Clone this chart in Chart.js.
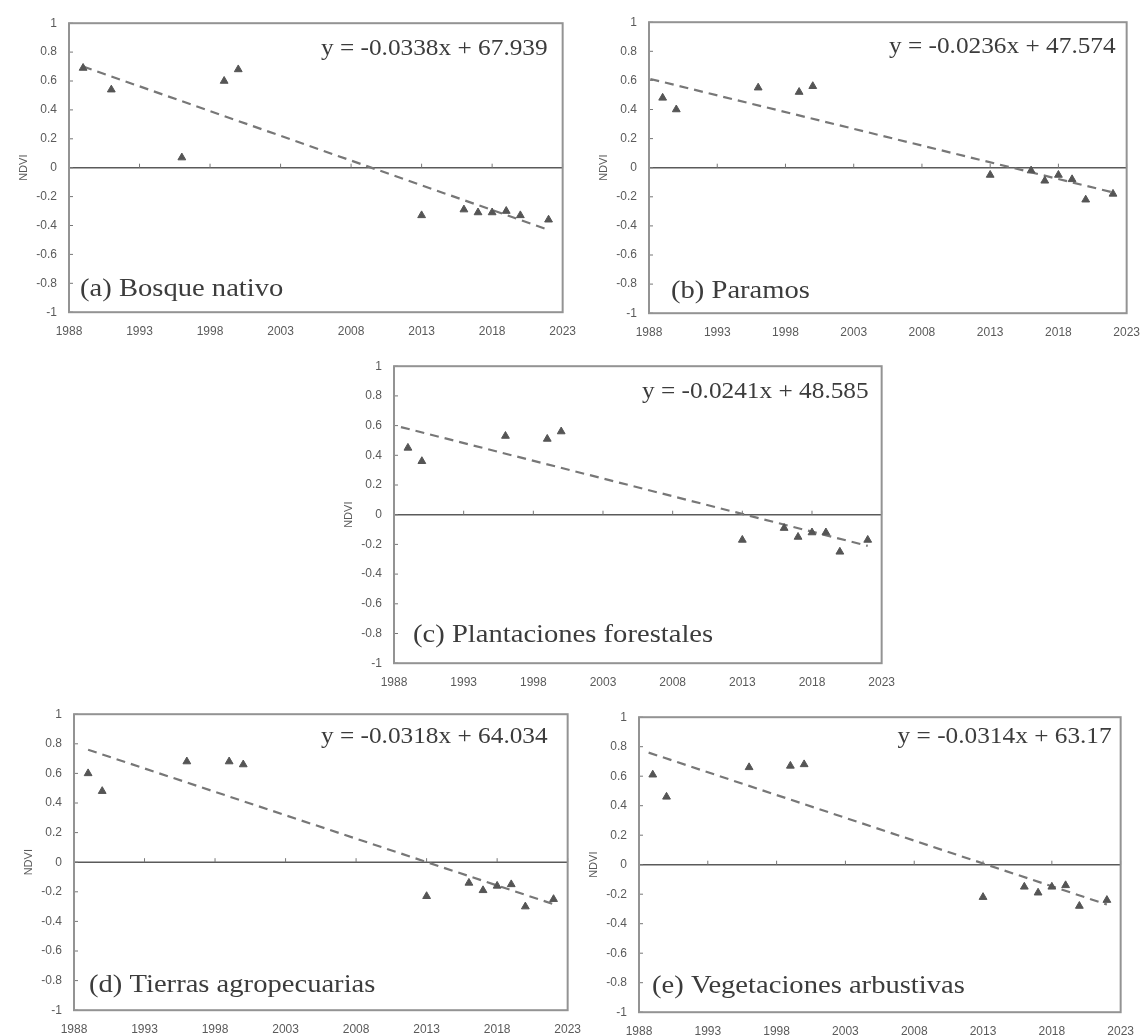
<!DOCTYPE html>
<html>
<head>
<meta charset="utf-8">
<script src="https://cdn.jsdelivr.net/npm/chart.js@4.4.1/dist/chart.umd.min.js"></script>
<style>
  body { margin: 0; background: #fff; }
  #wrap { position: relative; width: 1147px; height: 1036px; overflow: hidden; background: #fff; }
  #wrap canvas { position: absolute; }
</style>
</head>
<body>
<div id="wrap"></div>
<script>
// years of the scenes (panel a has 1991 where the others have 1990)
const yearsA = [1989, 1991, 1996, 1999, 2000, 2013, 2016, 2017, 2018, 2019, 2020, 2022];
const yearsBE = [1989, 1990, 1996, 1999, 2000, 2013, 2016, 2017, 2018, 2019, 2020, 2022];

// NDVI
const ndviA = [0.69, 0.54, 0.07, 0.60, 0.68, -0.33, -0.29, -0.31, -0.31, -0.30, -0.33, -0.36];
const ndviB = [0.48, 0.40, 0.55, 0.52, 0.56, -0.05, -0.02, -0.09, -0.05, -0.08, -0.22, -0.18];
const ndviC = [0.45, 0.36, 0.53, 0.51, 0.56, -0.17, -0.09, -0.15, -0.12, -0.12, -0.25, -0.17];
const ndviD = [0.60, 0.48, 0.68, 0.68, 0.66, -0.23, -0.14, -0.19, -0.16, -0.15, -0.30, -0.25];
const ndviE = [0.61, 0.46, 0.66, 0.67, 0.68, -0.22, -0.15, -0.19, -0.15, -0.14, -0.28, -0.24];

// dashed trend lines, start and end as drawn
const trendA = [[1989, 0.70], [2022, -0.43]];
const trendB = [[1988.1, 0.61], [2022, -0.17]];
const trendC = [[1988.5, 0.59], [2022, -0.21]];
const trendD = [[1989, 0.76], [2022.2, -0.29]];
const trendE = [[1988.7, 0.76], [2022, -0.27]];

const equations = ['y = -0.0338x + 67.939', 'y = -0.0236x + 47.574', 'y = -0.0241x + 48.585',
                   'y = -0.0318x + 64.034', 'y = -0.0314x + 63.17'];
const panelLabels = ['(a) Bosque nativo', '(b) Paramos', '(c) Plantaciones forestales',
                     '(d) Tierras agropecuarias', '(e) Vegetaciones arbustivas'];

const xTicks = [1988, 1993, 1998, 2003, 2008, 2013, 2018, 2023];
const yTicks = [1, 0.8, 0.6, 0.4, 0.2, 0, -0.2, -0.4, -0.6, -0.8, -1];

// plot areas in page pixels [left, top, right, bottom]
const boxes = [
  [69, 23, 564, 312],
  [649, 22, 1129, 313],
  [394, 366, 884, 663],
  [74, 714, 569, 1010],
  [639, 717, 1123, 1012]
];
// text placement inside each plot: [eq right inset, eq baseline, label left inset, label baseline above bottom]
const textPos = [
  [15, 32, 11, 16],
  [11, 31, 22, 15],
  [13, 32, 19, 21],
  [20, 29, 15, 18],
  [9, 26, 13, 19]
];

const series = [
  [yearsA, ndviA, trendA],
  [yearsBE, ndviB, trendB],
  [yearsBE, ndviC, trendC],
  [yearsBE, ndviD, trendD],
  [yearsBE, ndviE, trendE]
];

const Y_W = 62, PAD_T = 12, PAD_R = 12, X_H = 30;

function stretchedText(ctx, text, x, y, font, align, sx) {
  ctx.save();
  ctx.translate(x, y);
  ctx.scale(sx, 1);
  ctx.font = font;
  ctx.textAlign = align;
  ctx.textBaseline = 'alphabetic';
  ctx.fillText(text, 0, 0);
  ctx.restore();
}

const framePlugin = {
  id: 'frame',
  beforeDatasetsDraw(chart) {
    const { ctx, chartArea: a, scales: { x, y } } = chart;
    const y0 = y.getPixelForValue(0);
    ctx.save();
    ctx.strokeStyle = '#5a5a5a';
    ctx.lineWidth = 1.5;
    ctx.beginPath();
    ctx.moveTo(a.left, y0);
    ctx.lineTo(a.right, y0);
    ctx.stroke();
    // inside ticks: on the zero line and on the left border
    ctx.lineWidth = 1;
    ctx.strokeStyle = '#777';
    ctx.beginPath();
    xTicks.forEach(v => {
      const px = x.getPixelForValue(v);
      ctx.moveTo(px, y0);
      ctx.lineTo(px, y0 - 4);
    });
    yTicks.forEach(v => {
      const py = y.getPixelForValue(v);
      ctx.moveTo(a.left, py);
      ctx.lineTo(a.left + 4, py);
    });
    ctx.stroke();
    ctx.restore();
  },
  afterDraw(chart, args, opts) {
    const { ctx, chartArea: a } = chart;
    const t = opts.pos;
    ctx.save();
    ctx.strokeStyle = '#939393';
    ctx.lineWidth = 2;
    ctx.strokeRect(a.left, a.top, a.right - a.left, a.bottom - a.top);
    ctx.fillStyle = '#3c3c3c';
    stretchedText(ctx, opts.eq, a.right - t[0], a.top + t[1], '23px "Liberation Serif"', 'right', 1.1);
    stretchedText(ctx, opts.label, a.left + t[2], a.bottom - t[3], '26px "Liberation Serif"', 'left', 1.1);
    ctx.restore();
  }
};

const wrap = document.getElementById('wrap');

boxes.forEach((b, i) => {
  const [years, ndvi, trend] = series[i];
  const cv = document.createElement('canvas');
  const w = b[2] - b[0] + Y_W + PAD_R;
  const h = b[3] - b[1] + PAD_T + X_H;
  cv.width = w;
  cv.height = h;
  cv.style.width = w + 'px';
  cv.style.height = h + 'px';
  wrap.appendChild(cv);

  const chart = new Chart(cv.getContext('2d'), {
    type: 'scatter',
    data: {
      datasets: [
        {
          data: years.map((yr, k) => ({ x: yr, y: ndvi[k] })),
          pointStyle: 'triangle',
          pointRadius: 4.5,
          backgroundColor: '#555',
          borderColor: '#555',
          borderWidth: 1
        },
        {
          type: 'line',
          data: trend.map(p => ({ x: p[0], y: p[1] })),
          borderColor: '#777',
          borderWidth: 2.2,
          borderDash: [9, 6],
          pointRadius: 0,
          fill: false
        }
      ]
    },
    options: {
      responsive: false,
      animation: false,
      devicePixelRatio: 1,
      layout: { padding: { top: PAD_T, right: PAD_R, left: 0, bottom: 0 } },
      plugins: {
        legend: { display: false },
        tooltip: { enabled: false },
        frame: { eq: equations[i], label: panelLabels[i], pos: textPos[i] }
      },
      scales: {
        x: {
          type: 'linear',
          min: 1988,
          max: 2023,
          afterBuildTicks: s => { s.ticks = xTicks.map(v => ({ value: v })); },
          afterFit: s => { s.height = X_H; },
          grid: { display: false, drawTicks: false },
          border: { display: false },
          ticks: {
            padding: 12,
            maxRotation: 0,
            autoSkip: false,
            color: '#5a5a5a',
            font: { family: '"Liberation Sans"', size: 12 },
            callback: v => String(v)
          }
        },
        y: {
          min: -1,
          max: 1,
          afterBuildTicks: s => { s.ticks = yTicks.map(v => ({ value: v })); },
          afterFit: s => { s.width = Y_W; },
          grid: { display: false, drawTicks: false },
          border: { display: false },
          title: {
            display: true,
            text: 'NDVI',
            color: '#5a5a5a',
            font: { family: '"Liberation Sans"', size: 11 },
            padding: { top: 10, bottom: 0 }
          },
          ticks: {
            padding: 12,
            autoSkip: false,
            color: '#5a5a5a',
            font: { family: '"Liberation Sans"', size: 12 },
            callback: v => String(Math.round(v * 10) / 10)
          }
        }
      }
    },
    plugins: [framePlugin]
  });

  // make the drawn plot area land exactly on its box
  let ca = chart.chartArea;
  const dw = (b[2] - b[0]) - (ca.right - ca.left);
  const dh = (b[3] - b[1]) - (ca.bottom - ca.top);
  if (dw || dh) {
    chart.resize(w + dw, h + dh);
    ca = chart.chartArea;
  }
  cv.style.left = (b[0] - ca.left) + 'px';
  cv.style.top = (b[1] - ca.top) + 'px';
});
</script>
</body>
</html>
